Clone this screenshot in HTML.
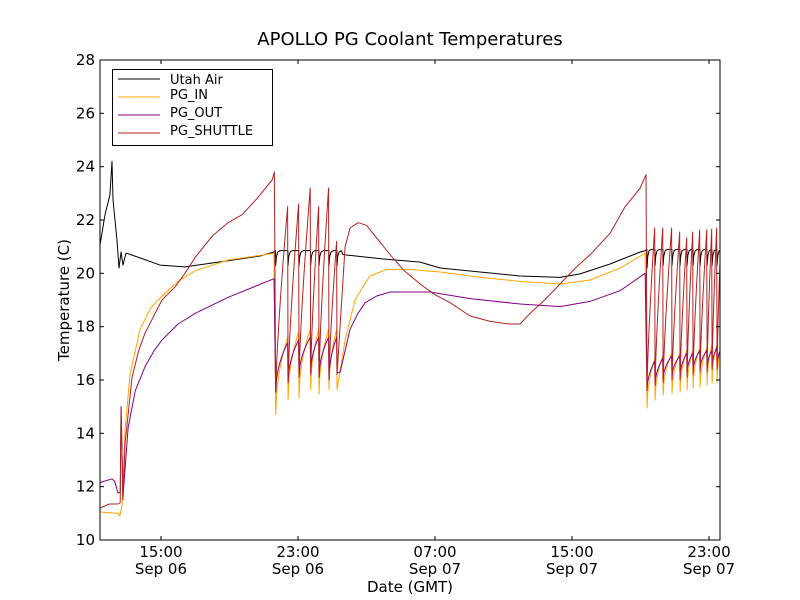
<!DOCTYPE html>
<html><head><meta charset="utf-8"><style>
body{margin:0;background:#fff;}
svg{display:block;font-family:"DejaVu Sans","Liberation Sans",sans-serif;}
</style></head><body>
<svg id="chart" width="800" height="600" viewBox="0 0 800 600">
<rect x="0" y="0" width="800" height="600" fill="#fff"/>
<text x="410" y="45" font-size="18" text-anchor="middle">APOLLO PG Coolant Temperatures</text>
<defs><clipPath id="pc"><rect x="100" y="60" width="620" height="480"/></clipPath></defs>
<g id="series" clip-path="url(#pc)"></g>
<g id="axes"></g>
<rect x="100" y="60" width="620" height="480" fill="none" stroke="#000" stroke-width="1"/>
<text x="410" y="592" font-size="15" text-anchor="middle">Date (GMT)</text>
<text transform="translate(69,300) rotate(-90)" font-size="15" text-anchor="middle">Temperature (C)</text>
<g>
<rect x="112.5" y="69.5" width="160" height="76" fill="#fff" stroke="#000"/>
<line x1="118" y1="79" x2="160" y2="79" stroke="#000"/>
<text x="170" y="84" font-size="13">Utah Air</text>
<line x1="118" y1="97" x2="160" y2="97" stroke="#ffa500"/>
<text x="170" y="99" font-size="13">PG_IN</text>
<line x1="118" y1="115" x2="160" y2="115" stroke="#800080"/>
<text x="170" y="117" font-size="13">PG_OUT</text>
<line x1="118" y1="133" x2="160" y2="133" stroke="#b22222"/>
<text x="170" y="135" font-size="13">PG_SHUTTLE</text>
</g>
</svg>
<script>
// time in hours from Sep 06 00:00 GMT
const tMin = 11.44, tMax = 47.64, vMin = 10, vMax = 28;
const yTicks = [10,12,14,16,18,20,22,24,26,28];
const xTickHours = [15,23,31,39,47];
const xTickTimes = ["15:00","23:00","07:00","15:00","23:00"];
const xTickDates = ["Sep 06","Sep 06","Sep 07","Sep 07","Sep 07"];

// cycling periods
const dipsA = [21.7,22.42,23.06,23.74,24.23,24.81,25.28];
const dipsB = [43.38,43.85,44.32,44.84,45.31,45.72,46.07,46.48,46.89,47.18,47.47];

// Utah Air
const airPre = [[11.44,21.06],[11.73,22.19],[12.02,22.94],[12.14,24.2],[12.2,22.75],[12.43,21.25],[12.55,20.2],[12.67,20.8],[12.78,20.31],[12.96,20.76],[13.78,20.58],[14.94,20.31],[16.4,20.24],[18.45,20.43],[20.78,20.65],[21.6,20.8]];
const airLowA = [20.3,20.3,20.3,20.3,20.3,20.3,20.3];
const airTopA = [20.85,20.85,20.85,20.85,20.85,20.85,20.85];
const airMid = [[25.63,20.7],[27.79,20.55],[30.13,20.42],[31.3,20.2],[33.63,20.05],[35.97,19.9],[38.3,19.85],[39.47,19.98],[41.22,20.35],[42.98,20.8],[43.27,20.85]];
const airLowB = [20.2,20.3,20.3,20.3,20.3,20.3,20.3,20.3,20.3,20.3,20.3];
const airTopB = [20.9,20.9,20.9,20.9,20.9,20.9,20.9,20.9,20.9,20.9,20.9];

// PG_IN
const inPre = [[11.44,11.05],[12.49,11.0],[12.6,10.9],[12.73,11.3],[12.9,14.1],[13.19,16.2],[13.78,17.9],[14.4,18.7],[15.06,19.15],[16.0,19.7],[17.0,20.1],[18.92,20.5],[21.6,20.75]];
const inBotA = [14.7,15.25,15.33,15.63,15.48,15.63,15.63];
const inPeakA = [17.6,17.8,17.9,17.9,17.9,17.9];
const inMid = [[25.75,17.5],[26.33,19.0],[26.8,19.5],[27.2,19.9],[28.2,20.15],[29.5,20.15],[31.3,20.05],[33.63,19.85],[35.97,19.7],[38.3,19.6],[40.06,19.75],[41.81,20.2],[43.27,20.75]];
const inBotB = [14.95,15.25,15.44,15.51,15.55,15.63,15.7,15.74,15.81,15.89,15.89];
const inPeakB = [16.8,16.9,17.0,17.0,17.1,17.1,17.2,17.2,17.3,17.3,17.3];

// PG_OUT
const outPre = [[11.44,12.15],[11.56,12.18],[12.14,12.29],[12.3,12.2],[12.49,11.76],[12.62,11.8],[12.67,15.0],[12.78,11.6],[13.08,14.2],[13.5,15.6],[14.07,16.5],[14.6,17.1],[15.06,17.5],[16.0,18.1],[17.0,18.5],[18.92,19.1],[21.6,19.8]];
const outBotA = [15.55,15.9,16.1,16.26,16.1,16.0,16.26];
const outPeakA = [17.4,17.5,17.6,17.6,17.6,17.6];
const outMid = [[25.46,16.3],[25.75,17.1],[26.04,17.9],[26.5,18.5],[26.92,18.9],[27.6,19.15],[28.38,19.3],[30.71,19.3],[33.05,19.05],[35.97,18.85],[38.3,18.75],[40.06,18.95],[41.81,19.35],[43.27,20.0]];
const outBotB = [15.6,15.8,16.0,16.1,16.1,16.26,16.3,16.4,16.45,16.5,16.55];
const outPeakB = [16.7,16.8,16.9,16.9,17.0,17.0,17.1,17.1,17.1,17.2,17.2];

// PG_SHUTTLE
const shPre = [[11.44,11.2],[12.0,11.35],[12.49,11.35],[12.62,11.4],[12.67,15.0],[12.78,11.5],[12.9,13.6],[13.31,16.1],[13.7,17.1],[14.07,17.76],[15.06,19.0],[15.82,19.49],[16.4,20.0],[17.0,20.6],[18.0,21.4],[18.92,21.9],[19.74,22.2],[20.6,22.8],[21.49,23.5],[21.62,23.8]];
const shBotA = [15.6,15.9,16.1,16.2,16.1,16.0,16.2];
const shPeakA = [22.5,22.6,23.2,22.5,23.2,21.2];
const shMid = [[25.75,21.0],[26.04,21.7],[26.51,21.9],[27.0,21.8],[27.5,21.4],[28.38,20.7],[29.2,20.1],[30.13,19.6],[31.0,19.2],[31.88,18.9],[33.05,18.4],[34.22,18.2],[35.3,18.1],[35.97,18.1],[36.55,18.5],[37.4,19.0],[38.3,19.6],[39.2,20.2],[40.06,20.7],[41.22,21.5],[42.1,22.5],[42.98,23.2],[43.32,23.7]];
const shBotB = [15.7,15.8,15.9,16.0,16.0,16.1,16.2,16.3,16.3,16.4,16.4];
const shPeakB = [21.7,21.7,21.7,21.55,21.33,21.55,21.63,21.63,21.66,21.7,21.66];

const X = t => 100 + (t - tMin) / (tMax - tMin) * 620;
const Y = v => 540 - (v - vMin) / (vMax - vMin) * 480;
const NS = "http://www.w3.org/2000/svg";

function cycles(pts, dips, bots, peaks, endT, expo) {
  for (let i = 0; i < dips.length; i++) {
    pts.push([dips[i], bots[i]]);
    if (i < peaks.length) {
      const nt = (i + 1 < dips.length ? dips[i + 1] : endT) - 0.025;
      for (let k = 1; k <= 12; k++) {
        const f = k / 12;
        pts.push([dips[i] + f * (nt - dips[i]), bots[i] + (peaks[i] - bots[i]) * Math.pow(f, expo)]);
      }
    }
  }
}
function airCycles(pts, dips, lows, tops) {
  for (let i = 0; i < dips.length; i++) {
    pts.push([dips[i] - 0.01, tops[i]]);
    pts.push([dips[i], lows[i]]);
    pts.push([dips[i] + 0.04, lows[i] + (tops[i] - lows[i]) * 0.6]);
    pts.push([dips[i] + 0.12, tops[i] - 0.05]);
    pts.push([dips[i] + 0.25, tops[i]]);
  }
}
function draw(pts, color, name) {
  const p = document.createElementNS(NS, "path");
  p.setAttribute("d", pts.map((q, i) => (i ? "L" : "M") + X(q[0]).toFixed(2) + "," + Y(q[1]).toFixed(2)).join(""));
  p.setAttribute("fill", "none");
  p.setAttribute("stroke", color);
  p.setAttribute("stroke-width", "1");
  p.setAttribute("stroke-linejoin", "round");
  
  
  document.getElementById("series").appendChild(p);
}
function build(pre, dA, bA, pA, mid, dB, bB, pB, expo) {
  const pts = pre.slice();
  cycles(pts, dA, bA, pA, 0, expo);
  mid.forEach(q => pts.push(q));
  cycles(pts, dB, bB, pB, tMax + 0.1, expo);
  return pts;
}
const airPts = airPre.slice();
airCycles(airPts, dipsA, airLowA, airTopA);
airMid.forEach(q => airPts.push(q));
airCycles(airPts, dipsB, airLowB, airTopB);
draw(airPts, "#000", "utah-air-line");
draw(build(inPre, dipsA, inBotA, inPeakA, inMid, dipsB, inBotB, inPeakB, 0.5), "#ffa500", "pg-in-line");
draw(build(outPre, dipsA, outBotA, outPeakA, outMid, dipsB, outBotB, outPeakB, 0.5), "#800080", "pg-out-line");
draw(build(shPre, dipsA, shBotA, shPeakA, shMid, dipsB, shBotB, shPeakB, 0.75), "#b22222", "pg-shuttle-line");

const ax = document.getElementById("axes");
function el(tag, attrs, text) {
  const e = document.createElementNS(NS, tag);
  for (const k in attrs) e.setAttribute(k, attrs[k]);
  if (text !== undefined) e.textContent = text;
  ax.appendChild(e);
  return e;
}
yTicks.forEach(v => {
  const y = Y(v);
  const a = el("line", {x1: 100, y1: y, x2: 104, y2: y, stroke: "#000"});
  
  
  const b = el("line", {x1: 716, y1: y, x2: 720, y2: y, stroke: "#000"});
  
  
  const t = el("text", {x: 95, y: y + 5, "font-size": 15, "text-anchor": "end"}, String(v));
  
  
});
xTickHours.forEach((h, i) => {
  const x = X(h);
  const a = el("line", {x1: x, y1: 540, x2: x, y2: 536, stroke: "#000"});
  
  
  const b = el("line", {x1: x, y1: 60, x2: x, y2: 64, stroke: "#000"});
  
  
  const t1 = el("text", {x: x, y: 557, "font-size": 15, "text-anchor": "middle"}, xTickTimes[i]);
  
  
  const t2 = el("text", {x: x, y: 574, "font-size": 15, "text-anchor": "middle"}, xTickDates[i]);
  
  
});
</script>
</body></html>
